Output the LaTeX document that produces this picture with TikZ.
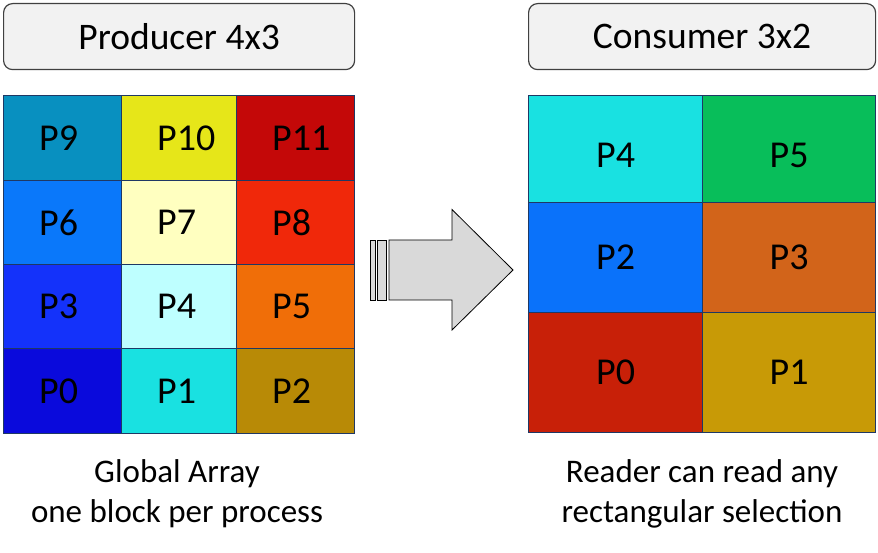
\documentclass[tikz,border=0pt]{standalone}
\usepackage{fontspec}
\setmainfont{Carlito}
\begin{document}
\begin{tikzpicture}[x=1pt,y=-1pt,
  header/.style={draw=black!75, fill=black!5, line width=1.2pt, rounded corners=9pt, anchor=north west, inner sep=0pt, font=\fontsize{37.5}{40}\selectfont},
  cell/.style={draw=gridline, line width=1.3pt, anchor=north west, inner sep=0pt},
  plabel/.style={anchor=west, inner sep=0pt, font=\fontsize{38}{42}\selectfont},
  clabel/.style={inner sep=0pt, font=\fontsize{38}{42}\selectfont},
  caption/.style={align=center, inner sep=0pt, font=\fontsize{33}{40}\selectfont},
  bigarrow/.style={draw=black, fill=black!15, line width=0.8pt, line join=miter}]
\definecolor{gridline}{HTML}{1F3864}
\definecolor{cA}{HTML}{0890C0}\definecolor{cB}{HTML}{E6E619}\definecolor{cC}{HTML}{C40808}
\definecolor{cD}{HTML}{0A78FA}\definecolor{cE}{HTML}{FFFFC0}\definecolor{cF}{HTML}{F0280A}
\definecolor{cG}{HTML}{1432FA}\definecolor{cH}{HTML}{BEFFFF}\definecolor{cI}{HTML}{F06E08}
\definecolor{cJ}{HTML}{0A0ADC}\definecolor{cK}{HTML}{19E1E1}\definecolor{cL}{HTML}{B88A06}
\definecolor{qA}{HTML}{19E1E1}\definecolor{qB}{HTML}{08BE5A}
\definecolor{qC}{HTML}{0A72FA}\definecolor{qD}{HTML}{D2641A}
\definecolor{qE}{HTML}{C82008}\definecolor{qF}{HTML}{C89A06}
\useasboundingbox (0,0) rectangle (878,553);
\fill[white] (0,0) rectangle (878,553);
% headers
\node[header, minimum width=351pt, minimum height=66pt] (prodh) at (3,3) {Producer 4x3};
\node[header, minimum width=347pt, minimum height=66pt] (consh) at (528,3) {Consumer 3x2};
% producer grid
\node[cell, fill=cA, minimum width=118pt, minimum height=85pt] (p9) at (3,95) {};
\node[cell, fill=cB, minimum width=115pt, minimum height=85pt] (p10) at (121,95) {};
\node[cell, fill=cC, minimum width=118pt, minimum height=85pt] (p11) at (236,95) {};
\node[cell, fill=cD, minimum width=118pt, minimum height=84pt] (p6) at (3,180) {};
\node[cell, fill=cE, minimum width=115pt, minimum height=84pt] (p7) at (121,180) {};
\node[cell, fill=cF, minimum width=118pt, minimum height=84pt] (p8) at (236,180) {};
\node[cell, fill=cG, minimum width=118pt, minimum height=84pt] (p3) at (3,264) {};
\node[cell, fill=cH, minimum width=115pt, minimum height=84pt] (p4) at (121,264) {};
\node[cell, fill=cI, minimum width=118pt, minimum height=84pt] (p5) at (236,264) {};
\node[cell, fill=cJ, minimum width=118pt, minimum height=85pt] (p0) at (3,348) {};
\node[cell, fill=cK, minimum width=115pt, minimum height=85pt] (p1) at (121,348) {};
\node[cell, fill=cL, minimum width=118pt, minimum height=85pt] (p2) at (236,348) {};
\foreach \n/\t in {p9/P9,p10/P10,p11/P11,p6/P6,p7/P7,p8/P8,p3/P3,p4/P4,p5/P5,p0/P0,p1/P1,p2/P2}
  \node[plabel] (\n t) at ([xshift=36pt]\n.west) {\t};
% consumer grid
\node[cell, fill=qA, minimum width=174pt, minimum height=107pt] (q4) at (528,95) {};
\node[cell, fill=qB, minimum width=173pt, minimum height=107pt] (q5) at (702,95) {};
\node[cell, fill=qC, minimum width=174pt, minimum height=110pt] (q2) at (528,202) {};
\node[cell, fill=qD, minimum width=173pt, minimum height=110pt] (q3) at (702,202) {};
\node[cell, fill=qE, minimum width=174pt, minimum height=120pt] (q0) at (528,312) {};
\node[cell, fill=qF, minimum width=173pt, minimum height=120pt] (q1) at (702,312) {};
\node[clabel] (q4t) at ([yshift=-6pt]q4.center) {P4};
\node[clabel] (q5t) at ([yshift=-6pt]q5.center) {P5};
\foreach \n/\t in {q2/P2,q3/P3,q0/P0,q1/P1}
  \node[clabel] (\n t) at (\n.center) {\t};
% captions
\node[caption] (pcap) at (177,494) {Global Array\\one block per process};
\node[caption] (ccap) at (702,494) {Reader can read any\\rectangular selection};
% arrow
\draw[bigarrow] (370,240) rectangle (375,300);
\draw[bigarrow] (377.5,240) rectangle (386,300);
\draw[bigarrow] (389,240) -- (452,240) -- (452,209.5) -- (513,270) -- (452,330) -- (452,300) -- (389,300) -- cycle;
\end{tikzpicture}
\end{document}
